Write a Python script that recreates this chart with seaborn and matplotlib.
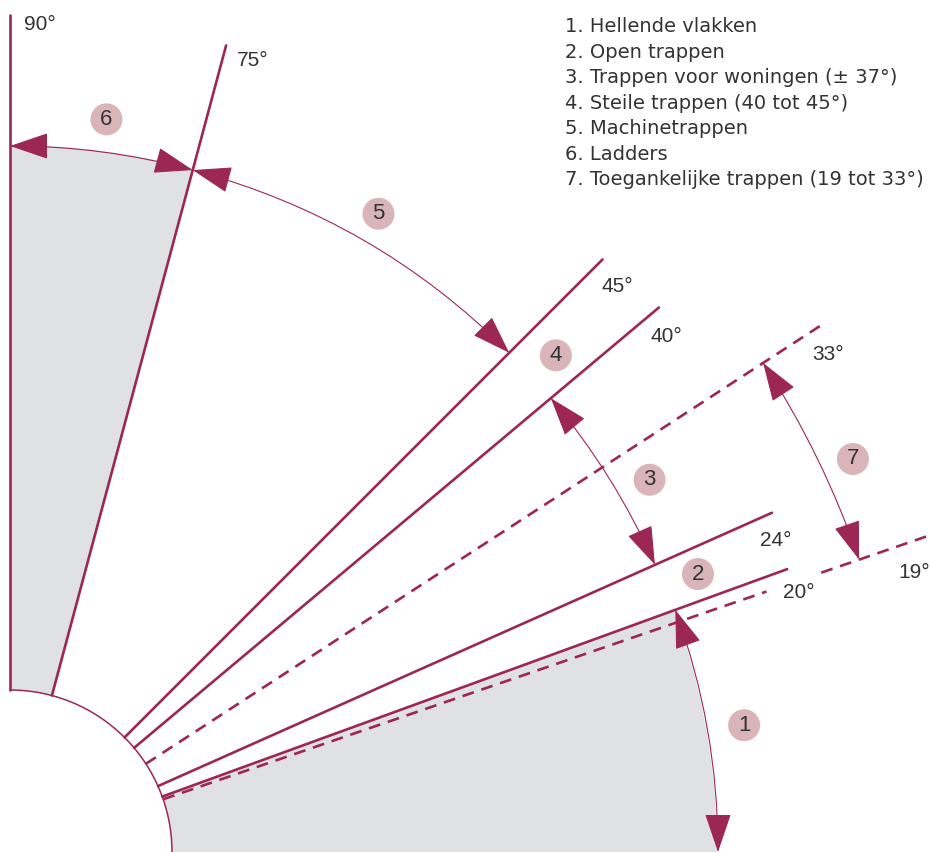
import numpy as np
import pandas as pd
import matplotlib
matplotlib.use("Agg")
import matplotlib.pyplot as plt
from matplotlib.patches import FancyArrowPatch, Circle
import seaborn as sns

#%% DATA
line_angles = [90, 75, 45, 40, 33, 24, 20, 19]
line_kinds = ["solid", "solid", "solid", "solid", "dashed", "solid", "solid", "dashed"]
line_ends = [837, 835, 838, 847, 970, 834, 827, 975]
angle_labels = ["90°", "75°", "45°", "40°", "33°", "24°", "20°", "19°"]

# zone arrows: start angle, end angle, arc radius
arrow_zones = ["1", "3", "5", "6", "7"]
arrow_from = [20, 40, 75, 90, 33]
arrow_to = [0, 24, 45, 75, 19]
arrow_radius = [708, 706, 706, 706, 898]

# numbered badges: number, angle, radius
badge_numbers = ["1", "2", "3", "4", "5", "6", "7"]
badge_angles = [9.8, 22, 30.2, 42.3, 60, 82.5, 25]
badge_radius = [745, 742, 740, 738, 737, 739, 930]

# gray sectors (angle ranges)
gray_from = [0, 75]
gray_to = [20, 90]

legend_items = [
    "1. Hellende vlakken",
    "2. Open trappen",
    "3. Trappen voor woningen (± 37°)",
    "4. Steile trappen (40 tot 45°)",
    "5. Machinetrappen",
    "6. Ladders",
    "7. Toegankelijke trappen (19 tot 33°)",
]

#%% STYLE / LAYOUT
MAROON = "#9c2755"
GRAY = "#e0e1e3"
BADGE = "#d9b5ba"
TEXT = "#333333"
R_INNER = 162
R_GRAY = 707
# gap in the 19° dashed line around the "20°" label
gap_19 = (800, 858)
label_pos = [(14, 827), (227, 792), (591, 565), (640, 515),
             (802, 497), (750, 312), (773, 260), (888, 280)]

sns.set_theme(style="white")
plt.rcParams["font.family"] = ["Liberation Sans", "DejaVu Sans"]


def polar(angle, r):
    a = np.deg2rad(angle)
    return r * np.cos(a), r * np.sin(a)


fig = plt.figure(figsize=(9.3, 8.52), dpi=100)
ax = fig.add_axes([0, 0, 1, 1])

# gray sectors
for a0, a1 in zip(gray_from, gray_to):
    t = np.linspace(a0, a1, 60)
    xo, yo = polar(t, R_GRAY)
    xi, yi = polar(t[::-1], R_INNER)
    ax.fill(np.r_[xo, xi], np.r_[yo, yi], color=GRAY, lw=0, zorder=1)

# inner arc
t = np.linspace(0, 90, 200)
xi, yi = polar(t, R_INNER)
ax.plot(xi, yi, color=MAROON, lw=1.1, zorder=3)

# radial lines
rows = []
seg = 0
for ang, kind, r_end in zip(line_angles, line_kinds, line_ends):
    pieces = [(R_INNER, r_end)]
    if ang == 19:
        pieces = [(R_INNER, gap_19[0]), (gap_19[1], r_end)]
    for r0, r1 in pieces:
        for r in (r0, r1):
            x, y = polar(ang, r)
            rows.append({"seg": seg, "x": x, "y": y, "kind": kind})
        seg += 1
lines_df = pd.DataFrame(rows)
sns.lineplot(data=lines_df, x="x", y="y", units="seg", estimator=None,
             sort=False, style="kind", dashes={"solid": "", "dashed": (4.5, 3)},
             color=MAROON, linewidth=1.9, legend=False, ax=ax, zorder=4)
ax.set_xlim(-10, 920)
ax.set_ylim(0, 852)
ax.set_aspect("equal")
ax.axis("off")

# angle labels
for txt, (lx, ly) in zip(angle_labels, label_pos):
    ax.text(lx, ly, txt, fontsize=15, color=TEXT, ha="left", va="center")

# double arrows along arcs
for a0, a1, r in zip(arrow_from, arrow_to, arrow_radius):
    theta = np.deg2rad(a0 - a1)
    rad = -np.tan(theta / 2) / 2
    arr = FancyArrowPatch(polar(a0, r), polar(a1, r),
                          connectionstyle=f"arc3,rad={rad}",
                          arrowstyle="<|-|>,head_length=25,head_width=8.5",
                          color=MAROON, lw=0.8, shrinkA=0, shrinkB=0, zorder=5)
    ax.add_patch(arr)

# number badges
for num, ang, r in zip(badge_numbers, badge_angles, badge_radius):
    cx, cy = polar(ang, r)
    ax.add_patch(Circle((cx, cy), 16, color=BADGE, lw=0, zorder=6))
    ax.text(cx, cy, num, fontsize=16, color=TEXT, ha="center", va="center", zorder=7)

# legend text
for i, item in enumerate(legend_items):
    ax.text(555, 825 - i * 25.4, item, fontsize=14, color=TEXT,
            family=["DejaVu Sans"], ha="left", va="center")

fig.savefig("out.png", dpi=100)
